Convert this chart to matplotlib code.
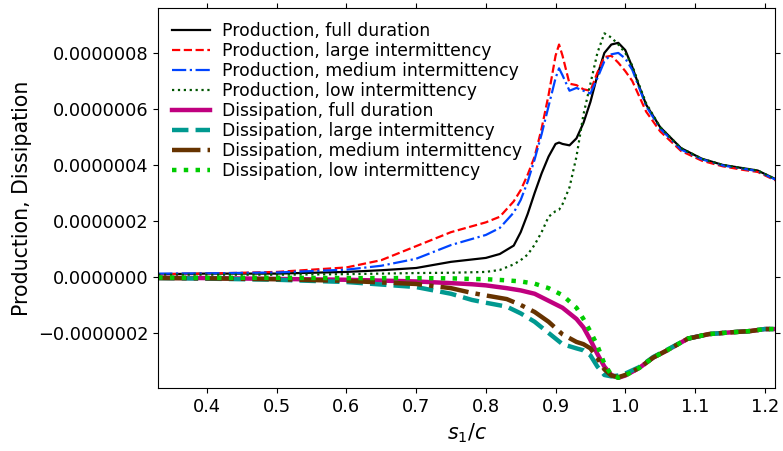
import numpy as np
import matplotlib
matplotlib.use('Agg')
import matplotlib.pyplot as plt
from matplotlib.ticker import FuncFormatter, MultipleLocator

# positions along the chord (s1/c)
x_prod = [0.33, 0.40, 0.50, 0.60, 0.65, 0.70, 0.75, 0.80, 0.82, 0.84, 0.85, 0.86,
          0.87, 0.88, 0.89, 0.90, 0.905, 0.91, 0.92, 0.93, 0.94, 0.95, 0.96, 0.97,
          0.98, 0.99, 1.00, 1.01, 1.02, 1.03, 1.05, 1.08, 1.11, 1.14, 1.17, 1.19, 1.215]

# production, in units of 1e-6
prod_full = [0.010, 0.012, 0.012, 0.018, 0.024, 0.032, 0.054, 0.068, 0.082, 0.112, 0.16, 0.225,
             0.30, 0.37, 0.43, 0.475, 0.48, 0.475, 0.47, 0.495, 0.55, 0.625, 0.72, 0.80,
             0.83, 0.836, 0.81, 0.75, 0.68, 0.615, 0.535, 0.46, 0.422, 0.400, 0.388, 0.38, 0.35]
prod_large = [0.010, 0.012, 0.018, 0.034, 0.06, 0.11, 0.16, 0.195, 0.215, 0.27, 0.31, 0.365,
              0.43, 0.53, 0.65, 0.79, 0.83, 0.79, 0.69, 0.685, 0.67, 0.665, 0.73, 0.785,
              0.79, 0.765, 0.735, 0.70, 0.645, 0.59, 0.52, 0.45, 0.415, 0.395, 0.382, 0.375, 0.345]
prod_medium = [0.012, 0.013, 0.016, 0.026, 0.04, 0.065, 0.114, 0.15, 0.175, 0.23, 0.275, 0.34,
               0.42, 0.51, 0.61, 0.71, 0.745, 0.72, 0.665, 0.675, 0.665, 0.655, 0.71, 0.77,
               0.795, 0.80, 0.78, 0.74, 0.675, 0.61, 0.53, 0.455, 0.42, 0.398, 0.386, 0.378, 0.348]
prod_low = [0.008, 0.008, 0.008, 0.010, 0.012, 0.014, 0.015, 0.018, 0.025, 0.045, 0.06, 0.08,
            0.115, 0.16, 0.215, 0.235, 0.24, 0.26, 0.32, 0.43, 0.58, 0.69, 0.80, 0.87,
            0.855, 0.83, 0.80, 0.755, 0.685, 0.62, 0.535, 0.46, 0.422, 0.40, 0.388, 0.38, 0.35]

x_diss = [0.33, 0.40, 0.50, 0.60, 0.70, 0.75, 0.78, 0.80, 0.83, 0.85, 0.87, 0.89, 0.91,
          0.93, 0.94, 0.95, 0.96, 0.97, 0.98, 0.99, 1.00, 1.02, 1.04, 1.06, 1.09, 1.12,
          1.15, 1.18, 1.20, 1.215]

# dissipation, in units of 1e-6
diss_full = [-0.003, -0.004, -0.007, -0.010, -0.016, -0.022, -0.026, -0.03, -0.04, -0.048, -0.06, -0.085, -0.11,
             -0.15, -0.18, -0.225, -0.275, -0.32, -0.35, -0.36, -0.352, -0.325, -0.288, -0.262, -0.22, -0.204,
             -0.198, -0.193, -0.186, -0.186]
diss_large = [-0.004, -0.006, -0.010, -0.018, -0.036, -0.06, -0.082, -0.092, -0.106, -0.13, -0.16, -0.20, -0.24,
              -0.255, -0.262, -0.28, -0.32, -0.35, -0.355, -0.352, -0.345, -0.322, -0.286, -0.26, -0.22, -0.204,
              -0.198, -0.193, -0.186, -0.186]
diss_medium = [-0.004, -0.005, -0.008, -0.014, -0.025, -0.04, -0.057, -0.066, -0.079, -0.10, -0.125, -0.16, -0.205,
               -0.232, -0.24, -0.255, -0.29, -0.33, -0.352, -0.358, -0.35, -0.325, -0.288, -0.262, -0.22, -0.204,
               -0.198, -0.193, -0.186, -0.186]
diss_low = [-0.002, -0.003, -0.003, -0.004, -0.004, -0.005, -0.007, -0.008, -0.012, -0.016, -0.024, -0.04, -0.065,
            -0.11, -0.15, -0.195, -0.245, -0.31, -0.35, -0.36, -0.352, -0.325, -0.288, -0.262, -0.22, -0.204,
            -0.198, -0.193, -0.186, -0.186]

fig = plt.figure(figsize=(7.83, 4.51), dpi=100)
ax = fig.add_axes([0.202, 0.140, 0.788, 0.842])

s = 1e-6
ax.plot(x_prod, np.array(prod_full) * s, color='black', lw=1.6, ls='-', label='Production, full duration')
ax.plot(x_prod, np.array(prod_large) * s, color='#ff0000', lw=1.6, ls='--', label='Production, large intermittency')
ax.plot(x_prod, np.array(prod_medium) * s, color='#0044ff', lw=1.6, ls='-.', label='Production, medium intermittency')
ax.plot(x_prod, np.array(prod_low) * s, color='#005500', lw=1.6, ls=':', label='Production, low intermittency')
ax.plot(x_diss, np.array(diss_full) * s, color='#c0007f', lw=3.2, ls='-', label='Dissipation, full duration')
ax.plot(x_diss, np.array(diss_large) * s, color='#009990', lw=3.2, ls='--', label='Dissipation, large intermittency')
ax.plot(x_diss, np.array(diss_medium) * s, color='#663300', lw=3.2, ls='-.', label='Dissipation, medium intermittency')
ax.plot(x_diss, np.array(diss_low) * s, color='#00cc00', lw=3.2, ls=':', label='Dissipation, low intermittency')

ax.set_xlim(0.33, 1.215)
ax.set_ylim(-0.396e-6, 0.96e-6)
ax.xaxis.set_major_locator(MultipleLocator(0.1))
ax.yaxis.set_major_locator(MultipleLocator(2e-7))
ax.yaxis.set_major_formatter(FuncFormatter(lambda v, p: ('%.7f' % v).replace('-', '\u2212')))
ax.tick_params(direction='out', top=True, right=True, labelsize=12.8)

ax.set_xlabel('$s_1/c$', fontsize=14.8)
ax.set_ylabel('Production, Dissipation', fontsize=14.8)

ax.legend(loc='upper left', frameon=False, fontsize=12.4, labelspacing=0.12,
          handlelength=2.2, handletextpad=0.7, borderaxespad=0.4)

fig.savefig('out.png', dpi=100)
